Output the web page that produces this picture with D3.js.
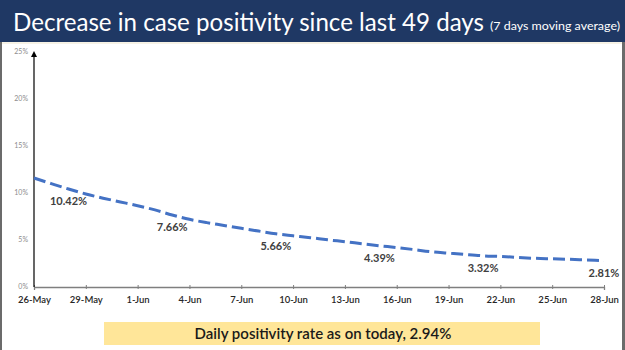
<!DOCTYPE html>
<html>
<head>
<meta charset="utf-8">
<script src="https://cdn.jsdelivr.net/npm/d3@7"></script>
<style>
  html, body { margin: 0; padding: 0; background: #fff; }
  svg { display: block; }
</style>
</head>
<body>
<div id="app"></div>
<script>
// daily 7-day moving average of test positivity (%), 26-May .. 28-Jun
const days = [
  '26-May','27-May','28-May','29-May','30-May','31-May','1-Jun','2-Jun','3-Jun','4-Jun',
  '5-Jun','6-Jun','7-Jun','8-Jun','9-Jun','10-Jun','11-Jun','12-Jun','13-Jun','14-Jun',
  '15-Jun','16-Jun','17-Jun','18-Jun','19-Jun','20-Jun','21-Jun','22-Jun','23-Jun','24-Jun',
  '25-Jun','26-Jun','27-Jun','28-Jun'
];
const positivity = [
  11.6, 11.0, 10.42, 9.9, 9.45, 9.05, 8.65, 8.2, 7.66, 7.2,
  6.85, 6.55, 6.24, 5.95, 5.66, 5.45, 5.25, 5.02, 4.82, 4.6,
  4.39, 4.2, 3.98, 3.75, 3.6, 3.45, 3.32, 3.25, 3.15, 3.05,
  3.0, 2.95, 2.88, 2.81
];
const labelDays = ['28-May', '3-Jun', '9-Jun', '15-Jun', '21-Jun', '28-Jun'];
const xTickDays = ['26-May','29-May','1-Jun','4-Jun','7-Jun','10-Jun','13-Jun','16-Jun','19-Jun','22-Jun','25-Jun','28-Jun'];
const yTicks = [0, 5, 10, 15, 20, 25];
const title = 'Decrease in case positivity since last 49 days';
const subtitle = '(7 days moving average)';
const footNote = 'Daily positivity rate as on today, 2.94%';

const W = 625, H = 350;
const m = { top: 52, right: 21, bottom: 63, left: 34 };

const svg = d3.select('#app').append('svg')
  .attr('width', W)
  .attr('height', H);

// header band
svg.append('rect')
  .attr('x', 0).attr('y', 0)
  .attr('width', W).attr('height', 42)
  .attr('fill', '#1f3864');

svg.append('line')
  .attr('x1', 0).attr('x2', W)
  .attr('y1', 43).attr('y2', 43)
  .attr('stroke', '#f3eedc').attr('stroke-width', 1.5);

svg.append('text')
  .attr('x', 13).attr('y', 31)
  .attr('fill', '#fff')
  .style('font-family', 'Lato, "Open Sans", sans-serif')
  .style('font-size', '25px')
  .attr('textLength', 471)
  .attr('lengthAdjust', 'spacingAndGlyphs')
  .text(title);

svg.append('text')
  .attr('x', 490).attr('y', 30)
  .attr('fill', '#fff')
  .style('font-family', 'Lato, "Open Sans", sans-serif')
  .style('font-size', '11px')
  .attr('textLength', 130)
  .attr('lengthAdjust', 'spacingAndGlyphs')
  .text(subtitle);

// side frame
svg.append('rect').attr('x', 0).attr('y', 42).attr('width', 2).attr('height', H - 42).attr('fill', '#6b6b6b');
svg.append('rect').attr('x', 622).attr('y', 42).attr('width', 3).attr('height', H - 42).attr('fill', '#6b6b6b');

const x = d3.scalePoint()
  .domain(days)
  .range([m.left, W - m.right]);

const y = d3.scaleLinear()
  .domain([0, 25])
  .range([H - m.bottom, m.top]);

// x axis
const xAxis = svg.append('g')
  .attr('transform', `translate(0, ${y(0)})`)
  .call(d3.axisBottom(x).tickValues(xTickDays).tickSize(3).tickPadding(6));

xAxis.select('.domain').attr('stroke', '#7f7f7f').attr('stroke-width', 1.3);
xAxis.selectAll('.tick line').attr('stroke', '#7f7f7f').attr('y1', -2).attr('y2', 2);
xAxis.selectAll('.tick text')
  .attr('fill', '#262626')
  .style('font-family', 'Lato, "Open Sans", sans-serif')
  .style('font-size', '9.5px')
  .style('font-weight', '600');

// y axis with arrow head
svg.append('defs').append('marker')
  .attr('id', 'arrow')
  .attr('viewBox', '0 0 10 10')
  .attr('refX', 5).attr('refY', 5)
  .attr('markerWidth', 5).attr('markerHeight', 5)
  .attr('orient', 'auto')
  .append('path')
  .attr('d', 'M0,0 L10,5 L0,10 z')
  .attr('fill', '#000');

svg.append('line')
  .attr('x1', m.left).attr('x2', m.left)
  .attr('y1', y(0)).attr('y2', y(25) + 2)
  .attr('stroke', '#000').attr('stroke-width', 1.2)
  .attr('marker-end', 'url(#arrow)');

svg.append('g').selectAll('text')
  .data(yTicks)
  .enter()
  .append('text')
  .attr('x', 28)
  .attr('y', d => y(d) + 2)
  .attr('text-anchor', 'end')
  .attr('fill', '#8c8c8c')
  .style('font-family', 'Lato, "Open Sans", sans-serif')
  .style('font-size', '7px')
  .text(d => d + '%');

// dashed line
const line = d3.line()
  .x((d, i) => x(days[i]))
  .y(d => y(d))
  .curve(d3.curveMonotoneX);

svg.append('path')
  .datum(positivity)
  .attr('d', line)
  .attr('fill', 'none')
  .attr('stroke', '#4472c4')
  .attr('stroke-width', 3)
  .attr('stroke-dasharray', '12,5');

// data labels under the line
svg.append('g').selectAll('text')
  .data(labelDays)
  .enter()
  .append('text')
  .attr('x', d => x(d))
  .attr('y', d => y(positivity[days.indexOf(d)]) + 16)
  .attr('text-anchor', 'middle')
  .attr('fill', '#404040')
  .style('font-family', 'Lato, "Open Sans", sans-serif')
  .style('font-size', '11px')
  .style('font-weight', 'bold')
  .text(d => positivity[days.indexOf(d)].toFixed(2) + '%');

// footnote box
svg.append('rect')
  .attr('x', 104).attr('y', 322)
  .attr('width', 436).attr('height', 23)
  .attr('fill', '#ffe699');

svg.append('text')
  .attr('x', 323).attr('y', 339)
  .attr('text-anchor', 'middle')
  .attr('fill', '#1a1a1a')
  .style('font-family', 'Lato, "Open Sans", sans-serif')
  .style('font-size', '15px')
  .style('font-weight', '600')
  .text(footNote);
</script>
</body>
</html>
